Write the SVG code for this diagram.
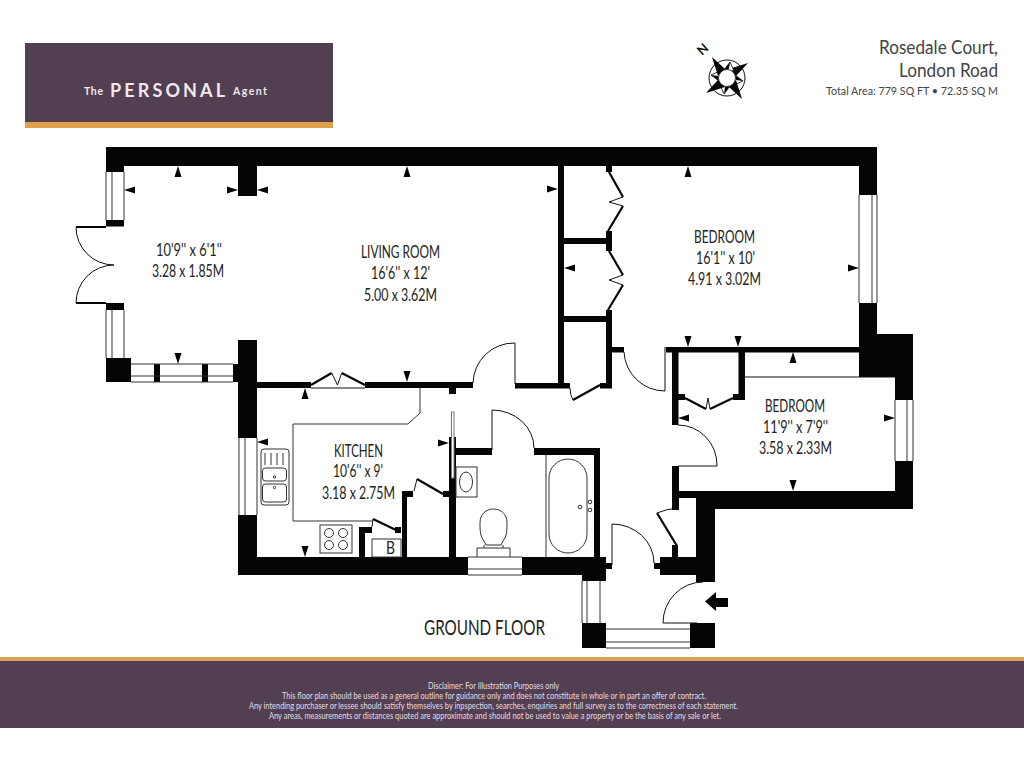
<svg xmlns="http://www.w3.org/2000/svg" width="1024" height="768" viewBox="0 0 1024 768">
<style>
text{font-family:Lato,"Liberation Sans","Noto Sans",sans-serif}
.w{fill:#050505}
.t{fill:none;stroke:#111;stroke-width:1}
.g{fill:none;stroke:#333;stroke-width:1}
.d{fill:none;stroke:#050505;stroke-width:2.2}
.l{font-size:18px;fill:#222}
.h{fill:#444;text-anchor:start}
.f{font-size:9.500px;fill:#e4dee2}
.b{fill:#f1e8ee;font-weight:700}
</style>
<defs>
<polygon id="tri" points="0,0 -3.500,11 3.500,11" fill="#050505"/>
<g id="spike">
<polygon points="21,-15 2,-9 9,-2" fill="#050505"/>
<polygon points="16,3 8,-3 7,7" fill="#fff" stroke="#050505" stroke-width=".8"/>
<polygon points="16,3 8,-3 9,2" fill="#050505"/>
</g>
</defs>
<rect width="1024" height="768" fill="#fff"/>

<g id="banner">
<rect x="25" y="43" width="308" height="79" fill="#533f52"/>
<rect x="25" y="122" width="308" height="6" fill="#dfa14e"/>
<text class="b" x="84" y="95" font-size="10.500" textLength="19" lengthAdjust="spacing">The</text>
<text class="b" x="110" y="97" font-size="18" textLength="115" lengthAdjust="spacing">PERSONAL</text>
<text class="b" x="233" y="95" font-size="10.500" textLength="34" lengthAdjust="spacing">Agent</text>
</g>

<g id="compass">
<text x="0" y="0" font-size="13" font-weight="bold" fill="#111" transform="translate(702,56) rotate(-42)">N</text>
<circle cx="727" cy="78" r="18" class="t"/>
<use href="#spike" transform="translate(727,78)"/>
<use href="#spike" transform="translate(727,78) rotate(90)"/>
<use href="#spike" transform="translate(727,78) rotate(180)"/>
<use href="#spike" transform="translate(727,78) rotate(270)"/>
<circle cx="727" cy="78" r="8.500" fill="#fff" stroke="#111" stroke-width=".8"/>
</g>

<g id="title">
<text class="h" x="879" y="54" font-size="18.500" textLength="119" lengthAdjust="spacingAndGlyphs">Rosedale Court,</text>
<text class="h" x="899" y="77" font-size="18.500" textLength="99" lengthAdjust="spacingAndGlyphs">London Road</text>
<text class="h" x="826" y="95" font-size="11.500" textLength="172" lengthAdjust="spacingAndGlyphs">Total Area: 779 SQ FT • 72.35 SQ M</text>
</g>

<g id="walls" class="w">
<rect x="106" y="147" width="771" height="19"/>
<rect x="106" y="147" width="18" height="25"/>
<rect x="106" y="220" width="18" height="6.500"/>
<rect x="106" y="303" width="18" height="7"/>
<rect x="106" y="358" width="25" height="24"/>
<rect x="154" y="364" width="6" height="18"/>
<rect x="202" y="364" width="6" height="18"/>
<rect x="233" y="364" width="5" height="18"/>
<rect x="238" y="147" width="19" height="49"/>
<rect x="238" y="340" width="19" height="98"/>
<rect x="238" y="515" width="19" height="60"/>
<rect x="257" y="382" width="54" height="6"/>
<rect x="365" y="382" width="108" height="6"/>
<rect x="449" y="388" width="7" height="6"/>
<rect x="515" y="383" width="55" height="5.500"/>
<rect x="558" y="147" width="6" height="241"/>
<rect x="600" y="383" width="12" height="5.500"/>
<rect x="606" y="310" width="6" height="78"/>
<rect x="606" y="166" width="6" height="6"/>
<rect x="606" y="231" width="6" height="20"/>
<rect x="564" y="238" width="43" height="6"/>
<rect x="564" y="316" width="43" height="6"/>
<rect x="612" y="347" width="12" height="5.500"/>
<rect x="666" y="347" width="193" height="5.500"/>
<rect x="672" y="352" width="6.500" height="73"/>
<rect x="678" y="394" width="7" height="6"/>
<rect x="733" y="394" width="12" height="6"/>
<rect x="738.500" y="352" width="6.500" height="48"/>
<rect x="859" y="147" width="18" height="48"/>
<rect x="859" y="303" width="18" height="74"/>
<rect x="877" y="334" width="36" height="43"/>
<rect x="895" y="377" width="18" height="23"/>
<rect x="895" y="461" width="18" height="48"/>
<rect x="678" y="491" width="20" height="7"/>
<rect x="696" y="491" width="217" height="18"/>
<rect x="672" y="466" width="7" height="44"/>
<rect x="696" y="509" width="19" height="73"/>
<rect x="672" y="545" width="6" height="12"/>
<rect x="660" y="557" width="55" height="18"/>
<rect x="654" y="563" width="6" height="6"/>
<rect x="239" y="557" width="229" height="18"/>
<rect x="522" y="557" width="84" height="18"/>
<rect x="606" y="563" width="6" height="6"/>
<rect x="582" y="575" width="24" height="6"/>
<rect x="582" y="623" width="24" height="25"/>
<rect x="690" y="623" width="25" height="25"/>
<rect x="449" y="437" width="7" height="120"/>
<rect x="456" y="448" width="36" height="7"/>
<rect x="534" y="448" width="66" height="7"/>
<rect x="594" y="448" width="6" height="109"/>
<rect x="402" y="491" width="5" height="66"/>
<rect x="402" y="491" width="11" height="6"/>
<rect x="443" y="491" width="7" height="6"/>
<rect x="359" y="527" width="6" height="30"/>
<rect x="359" y="527" width="13" height="6"/>
<rect x="395" y="527" width="6" height="6"/>
<polygon points="705,601.500 716,592 716,598 728,598 728,607 716,607 716,611"/>
</g>

<g id="windows" class="g">
<path d="M106 172V220M112 172V220M124 172V220"/>
<path d="M106 310V358M112 310V358M124 310V358"/>
<path d="M131 364H233M131 376H233M131 382H233"/>
<path d="M239 438V515M245 438V515M257 438V515"/>
<path d="M859 195V303M872 195V303M877 195V303"/>
<path d="M895 400V461M907 400V461M913 400V461"/>
<path d="M468 557H522M468 569H522M468 575H522"/>
<path d="M582 581V623M587 581V623M600 581V623"/>
<path d="M606 629H690M606 642H690M606 648H690"/>
<rect x="451.500" y="412" width="2.500" height="66" fill="#fff" stroke="#777"/>
</g>

<g id="doors">
<path class="d" d="M76 227H106M76 303H106"/>
<path class="t" d="M76 227A38 38 0 0 0 114 265A38 38 0 0 0 76 303"/>
<path class="d" d="M311 385L331.700 373M341.700 373L365 385"/>
<path class="t" d="M331.700 373L337.500 385L341.700 373M311 388H365"/>
<path class="t" d="M473 383A41 41 0 0 1 515 343V384"/>
<path class="t" d="M570 388Q570 395 573 400"/>
<path class="d" d="M573 400L600 385"/>
<path class="d" d="M609 172L623 197M623 206L608 231M609 251L623 275M623 285L608 310"/>
<path class="t" d="M623 197L609 202L623 206M623 275L609 280L623 285"/>
<path class="t" d="M624 352A41 41 0 0 0 665 391V347"/>
<path class="d" d="M685 398L706 409M710 409L733 398"/>
<path class="t" d="M706 409L708 398L710 409M745 377H895"/>
<path class="t" d="M678 425A39 40 0 0 1 717 465V466H678"/>
<path class="t" d="M492 450V410A42 38 0 0 1 534 448"/>
<path class="d" d="M657 513L677 546"/>
<path class="t" d="M657 513Q666 509 678 508"/>
<path class="t" d="M612 565V524A42 39 0 0 1 654 563"/>
<path class="t" d="M697 623H663A40 41 0 0 1 703 582"/>
<path class="d" d="M443 494L417 479"/>
<path class="t" d="M417 479L414 491"/>
<path class="d" d="M396 530L373 519"/>
<path class="t" d="M373 519L372 527"/>
</g>

<g id="fixtures" class="g">
<path d="M420 388V413L408 424H293V521H373"/>
<rect x="320" y="525" width="32" height="28"/>
<circle cx="329" cy="533" r="4.500"/><circle cx="343" cy="533" r="4.500"/>
<circle cx="329" cy="545" r="4.500"/><circle cx="343" cy="545" r="4.500"/>
<rect x="372" y="539" width="29" height="18"/>
<rect x="261" y="449" width="28" height="56" rx="3"/>
<path d="M265 453V465M271 453V465M277 453V465M283 453V465"/>
<rect x="262.500" y="468" width="24" height="13" rx="3"/>
<rect x="262.500" y="484" width="24" height="18" rx="3"/>
<circle cx="274.500" cy="477" r="1.200"/><circle cx="274.500" cy="487.500" r="1.200"/>
<path d="M546 455V557"/>
<rect x="549" y="459" width="38" height="94" rx="19"/>
<circle cx="580" cy="507" r="1.800"/><circle cx="590" cy="502" r="1.800"/><circle cx="590" cy="510" r="1.800"/>
<rect x="456" y="467" width="21" height="30"/>
<ellipse cx="466" cy="482" rx="6.500" ry="10"/>
<path d="M484 541C480 536 480 530 480 523C480 514 486 509 493.500 509C501 509 507 514 507 523C507 530 507 536 503 541L501 545H486Z"/>
<path d="M477 557V548H510V557M484 548V545M503 548V545"/>
</g>

<g id="ticks">
<use href="#tri" transform="translate(178,166)"/>
<use href="#tri" transform="translate(407,166)"/>
<use href="#tri" transform="translate(688,166)"/>
<use href="#tri" transform="translate(305,388)"/>
<use href="#tri" transform="translate(793,352)"/>
<use href="#tri" transform="translate(178,364) rotate(180)"/>
<use href="#tri" transform="translate(407,382) rotate(180)"/>
<use href="#tri" transform="translate(305,557) rotate(180)"/>
<use href="#tri" transform="translate(688,347) rotate(180)"/>
<use href="#tri" transform="translate(738,347) rotate(180)"/>
<use href="#tri" transform="translate(793,491) rotate(180)"/>
<use href="#tri" transform="translate(124,190) rotate(-90)"/>
<use href="#tri" transform="translate(257,190) rotate(-90)"/>
<use href="#tri" transform="translate(564,268) rotate(-90)"/>
<use href="#tri" transform="translate(257,442) rotate(-90)"/>
<use href="#tri" transform="translate(678,418) rotate(-90)"/>
<use href="#tri" transform="translate(238,190) rotate(90)"/>
<use href="#tri" transform="translate(558,189) rotate(90)"/>
<use href="#tri" transform="translate(859,268) rotate(90)"/>
<use href="#tri" transform="translate(449,443) rotate(90)"/>
<use href="#tri" transform="translate(895,418) rotate(90)"/>
</g>

<g id="labels">
<text class="l" x="156" y="256" textLength="66" lengthAdjust="spacingAndGlyphs">10'9'' x 6'1''</text>
<text class="l" x="152" y="277" textLength="72" lengthAdjust="spacingAndGlyphs">3.28 x 1.85M</text>
<text class="l" x="361" y="258" textLength="79" lengthAdjust="spacingAndGlyphs">LIVING ROOM</text>
<text class="l" x="371" y="279" textLength="59" lengthAdjust="spacingAndGlyphs">16'6'' x 12'</text>
<text class="l" x="364" y="301" textLength="73" lengthAdjust="spacingAndGlyphs">5.00 x 3.62M</text>
<text class="l" x="694" y="243" textLength="61" lengthAdjust="spacingAndGlyphs">BEDROOM</text>
<text class="l" x="696" y="264" textLength="59" lengthAdjust="spacingAndGlyphs">16'1'' x 10'</text>
<text class="l" x="688" y="285" textLength="73" lengthAdjust="spacingAndGlyphs">4.91 x 3.02M</text>
<text class="l" x="334" y="457" textLength="49" lengthAdjust="spacingAndGlyphs">KITCHEN</text>
<text class="l" x="333" y="477" textLength="50" lengthAdjust="spacingAndGlyphs">10'6'' x 9'</text>
<text class="l" x="322" y="499" textLength="73" lengthAdjust="spacingAndGlyphs">3.18 x 2.75M</text>
<text class="l" x="765" y="412" textLength="60" lengthAdjust="spacingAndGlyphs">BEDROOM</text>
<text class="l" x="763" y="433" textLength="65" lengthAdjust="spacingAndGlyphs">11'9'' x 7'9''</text>
<text class="l" x="759" y="454" textLength="73" lengthAdjust="spacingAndGlyphs">3.58 x 2.33M</text>
<text class="l" x="386" y="554" textLength="9" lengthAdjust="spacingAndGlyphs">B</text>
<text x="424" y="635" font-size="21.500" fill="#222" textLength="121" lengthAdjust="spacingAndGlyphs">GROUND FLOOR</text>
</g>

<g id="footer">
<rect x="0" y="657" width="1024" height="4" fill="#d9a05c"/>
<rect x="0" y="661" width="1024" height="67" fill="#533f52"/>
<text class="f" x="428" y="689" textLength="131" lengthAdjust="spacingAndGlyphs">Disclaimer: For Illustration Purposes only</text>
<text class="f" x="282" y="699" textLength="424" lengthAdjust="spacingAndGlyphs">This floor plan should be used as a general outline for guidance only and does not constitute in whole or in part an offer of contract.</text>
<text class="f" x="249" y="709" textLength="489" lengthAdjust="spacingAndGlyphs">Any intending purchaser or lessee should satisfy themselves by inpspection, searches, enquiries and full survey as to the correctness of each statement.</text>
<text class="f" x="269" y="719" textLength="452" lengthAdjust="spacingAndGlyphs">Any areas, measurements or distances quoted are approximate and should not be used to value a property or be the basis of any sale or let.</text>
</g>
</svg>
